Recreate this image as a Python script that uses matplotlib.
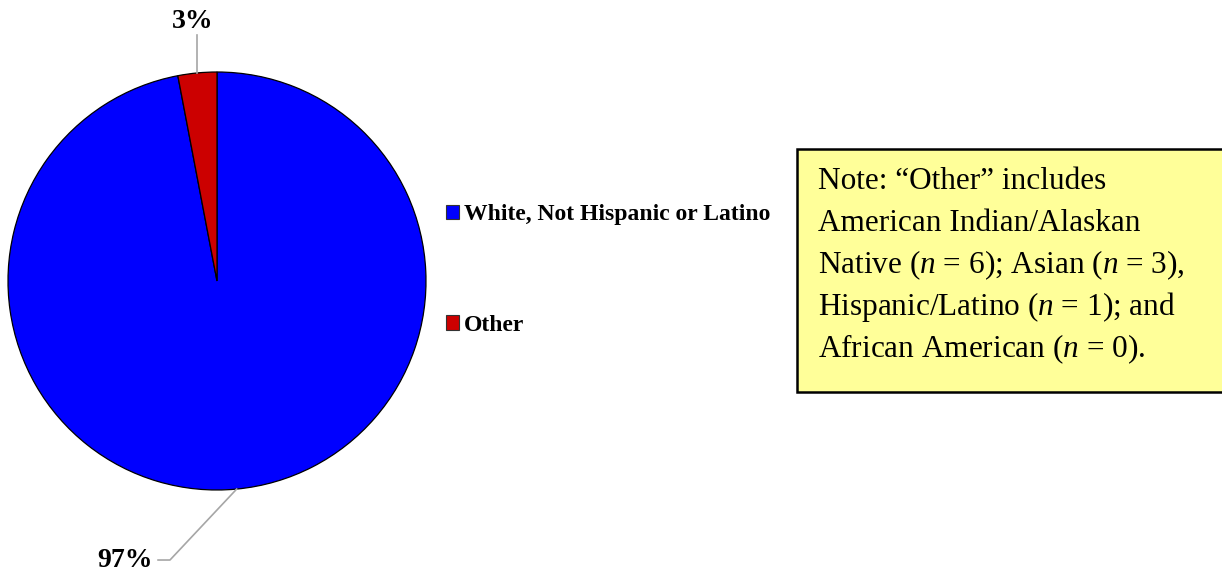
import numpy as np
import matplotlib
matplotlib.use("Agg")
import matplotlib.pyplot as plt
from matplotlib.patches import Patch, Rectangle

plt.rcParams['font.family'] = ['Liberation Serif', 'DejaVu Serif']
plt.rcParams['mathtext.fontset'] = 'custom'
plt.rcParams['mathtext.rm'] = 'Liberation Serif'
plt.rcParams['mathtext.it'] = 'Liberation Serif:italic'

# Race / ethnicity shares (percent)
categories = ['White, Not Hispanic or Latino', 'Other']
shares = [97, 3]
colors = ['#0000FF', '#CC0000']

note_lines = [
    'Note: \u201cOther\u201d includes',
    'American Indian/Alaskan',
    'Native ($n$ = 6); Asian ($n$ = 3),',
    'Hispanic/Latino ($n$ = 1); and',
    'African American ($n$ = 0).',
]

W, H = 1222, 571
fig = plt.figure(figsize=(W / 100, H / 100), dpi=100)

# pie axes, sized so the circle has radius 1 in data units
ax = fig.add_axes([8 / W, 81 / H, 418 / W, 418 / H])
wedges, _ = ax.pie(shares, colors=colors, startangle=90, counterclock=False,
                   radius=1, wedgeprops=dict(edgecolor='black', linewidth=0.9))
ax.set_xlim(-1, 1)
ax.set_ylim(-1, 1)
ax.set_aspect('equal')
ax.axis('off')

# percentage labels with grey leader lines
for w, val in zip(wedges, shares):
    mid = np.deg2rad((w.theta1 + w.theta2) / 2)
    ex, ey = np.cos(mid), np.sin(mid)
    if ey > 0:
        ax.plot([ex, ex], [ey, 1.177], color='#A6A6A6', lw=1.2, clip_on=False)
        ax.text(-0.115, 1.21, f'{val}%', ha='center', va='baseline',
                fontsize=20, fontweight='bold', clip_on=False)
    else:
        ax.plot([ex, -0.225, -0.282], [ey, -1.335, -1.335], color='#A6A6A6',
                lw=1.2, clip_on=False)
        ax.text(-0.306, -1.368, f'{val}%', ha='right', va='baseline',
                fontsize=20, fontweight='bold', clip_on=False)

# legend
handles = [Patch(facecolor=c, edgecolor='#333333', linewidth=0.8) for c in colors]
fig.legend(handles, categories, loc='center left',
           bbox_to_anchor=(446 / W, 1 - 270 / H), frameon=False,
           prop=dict(size=17, weight='bold'), handlelength=0.55, handleheight=0.55,
           handletextpad=0.2, labelspacing=3.79, borderpad=0, borderaxespad=0)

# note box (runs off the right edge)
fig.patches.append(Rectangle((797 / W, 1 - 392 / H), 440 / W, 243 / H,
                             transform=fig.transFigure, facecolor='#FFFF99',
                             edgecolor='black', linewidth=1.8))
for i, line in enumerate(note_lines):
    fig.text(818 / W, 1 - (189 + 42 * i) / H, line, ha='left', va='baseline',
             fontsize=22.5)

fig.savefig('out.png', dpi=100)
